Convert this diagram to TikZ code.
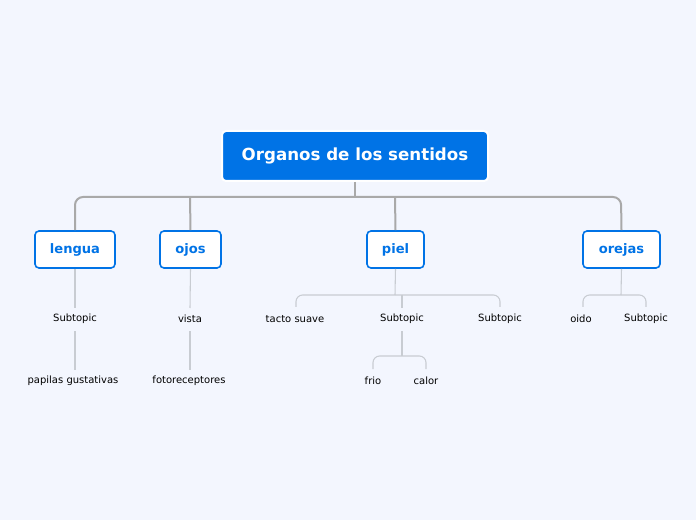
\documentclass[tikz,border=0pt]{standalone}
\usepackage{fontspec}
\setmainfont{DejaVu Sans}
\definecolor{bg}{HTML}{F3F6FE}
\definecolor{mblue}{HTML}{0073E6}
\definecolor{lgray}{HTML}{A9A9A9}
\definecolor{tgray}{HTML}{C8CCD2}
\begin{document}
\begin{tikzpicture}[x=0.75pt,y=-0.75pt,
  root/.style={fill=mblue,draw=white,line width=1.5pt,rounded corners=3pt,minimum width=266*0.75pt,minimum height=50*0.75pt,text=white,font=\bfseries\fontsize{12.5}{14}\selectfont},
  main/.style={fill=white,draw=mblue,line width=1.2pt,rounded corners=3pt,minimum height=37*0.75pt,text=mblue,font=\bfseries\fontsize{9.8}{12}\selectfont},
  sub/.style={inner sep=1pt,font=\fontsize{7.5}{9}\selectfont},
  thick1/.style={draw=lgray,line width=1.5pt,rounded corners=6pt},
  thin1/.style={draw=tgray,line width=0.8pt,rounded corners=5pt}]
\useasboundingbox[fill=bg] (0,0) rectangle (696,520);
\node[root] (r) at (355,156) {Organos de los sentidos};
\node[main,minimum width=80*0.75pt] (a) at (75,249.5) {lengua};
\node[main,minimum width=61*0.75pt] (b) at (190.5,249.5) {ojos};
\node[main,minimum width=57*0.75pt] (c) at (395.5,249.5) {piel};
\node[main,minimum width=77*0.75pt] (d) at (621.5,249.5) {orejas};
\draw[thick1] (r.south) -- (355,197);
\draw[thick1] (a.north) -- (75,197) -- (621,197) -- (d.north);
\draw[thick1] (b.north) -- (190,197);
\draw[thick1] (c.north) -- (395,197);
\node[sub] (a1) at (75,319) {Subtopic};
\node[sub] (a2) at (73,381) {papilas gustativas};
\node[sub] (b1) at (190,319) {vista};
\node[sub] (b2) at (189,381) {fotoreceptores};
\node[sub] (c1) at (295,319) {tacto suave};
\node[sub] (c2) at (402,319) {Subtopic};
\node[sub] (c3) at (500,319) {Subtopic};
\node[sub] (c21) at (373,381) {frio};
\node[sub] (c22) at (426,381) {calor};
\node[sub] (d1) at (581,319) {oido};
\node[sub] (d2) at (646,319) {Subtopic};
\draw[thin1] (a.south) -- (75,308);
\draw[thin1] (75,331) -- (75,370);
\draw[thin1] (b.south) -- (190,308);
\draw[thin1] (190,331) -- (190,370);
\draw[thin1] (c.south) -- (395,295);
\draw[thin1] (296,307) -- (296,295) -- (500,295) -- (500,307);
\draw[thin1] (402,295) -- (402,308);
\draw[thin1] (402,331) -- (402,356);
\draw[thin1] (373,369) -- (373,356) -- (426,356) -- (426,369);
\draw[thin1] (d.south) -- (621,295);
\draw[thin1] (583,307) -- (583,295) -- (646,295) -- (646,307);
\end{tikzpicture}
\end{document}
